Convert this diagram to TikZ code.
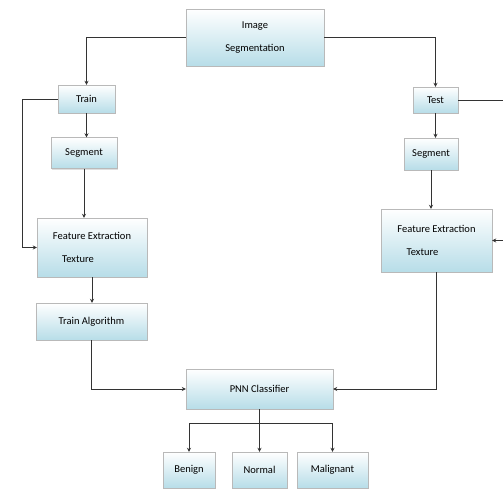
\documentclass[tikz,border=0pt]{standalone}
\usepackage{fontspec}
\setmainfont{Carlito}
\usetikzlibrary{positioning}
\usetikzlibrary{arrows.meta,shadows}
\definecolor{blokblauw}{RGB}{183,221,232}

\begin{document}
\begin{tikzpicture}[x=1pt,y=-1pt,
	blok/.style={draw=gray!55,line width=0.4pt,top color=white,bottom color=blokblauw,
		drop shadow={opacity=0.25,shadow xshift=1pt,shadow yshift=-1pt},
		inner sep=0pt,align=center,font=\fontsize{10.5}{23}\selectfont},
	pijl/.style={line width=0.9pt,black!80,-{Stealth[length=4pt,width=4pt]}}]
	\useasboundingbox (0,0) rectangle (503,490);
	\node[blok,minimum width=138pt,minimum height=57pt] (imgseg) at (255,37.5) {Image\\Segmentation};
	\node[blok,minimum width=57pt,minimum height=28pt] (train) at (86.5,99) {Train};
	\node[blok,minimum width=45pt,minimum height=26pt] (test) at (435.5,100) {Test};
	\node[blok,minimum width=66pt,minimum height=31pt] (segL) at (84,153) {Segment};
	\node[blok,minimum width=54pt,minimum height=32pt] (segR) at (431,154) {Segment};
	\node[blok,minimum width=110pt,minimum height=59pt] (featL) at (92,247.5)
		{Feature Extraction\\\hspace*{-28pt}Texture};
	\node[blok,minimum width=111pt,minimum height=63pt] (featR) at (436.5,240.5)
		{Feature Extraction\\\hspace*{-28pt}Texture};
	\node[blok,minimum width=111pt,minimum height=37pt] (trainalg) at (91.5,321.5) {Train Algorithm};
	\node[blok,minimum width=147pt,minimum height=40pt] (pnn) at (259.5,389) {PNN Classifier};
	\node[blok,minimum width=52pt,minimum height=36pt] (benign) at (189,470) {Benign};
	\node[blok,minimum width=55pt,minimum height=36pt] (normal) at (259.5,470) {Normal};
	\node[blok,minimum width=71pt,minimum height=36pt] (malig) at (332.5,470) {Malignant};
	\coordinate (split) at (259.5,423);
	% bovenste tak
	\draw[pijl] (imgseg.west) -| (train.north);
	\draw[pijl] (imgseg.east) -| (test.north);
	% train kant
	\draw[pijl] (train.south) -- (train.south |- segL.north);
	\draw[pijl] (segL.south) -- (segL.south |- featL.north);
	\draw[pijl] (train.west) -- (22,99) |- (featL.west);
	\draw[pijl] (featL.south) -- (featL.south |- trainalg.north);
	\draw[pijl] (trainalg.south) |- (pnn.west);
	% test kant
	\draw[pijl] (test.south) -- (test.south |- segR.north);
	\draw[pijl] (segR.south) -- (segR.south |- featR.north);
	\draw[pijl] (test.east) -- (515,100) |- (featR.east);	% loopt buiten beeld
	\draw[pijl] (featR.south) |- (pnn.east);
	% uitkomsten
	\draw[line width=0.9pt,black!80] (pnn.south) -- (split);
	\foreach \n in {benign,normal,malig}
		\draw[pijl] (split) -| (\n.north);
\end{tikzpicture}
\end{document}
